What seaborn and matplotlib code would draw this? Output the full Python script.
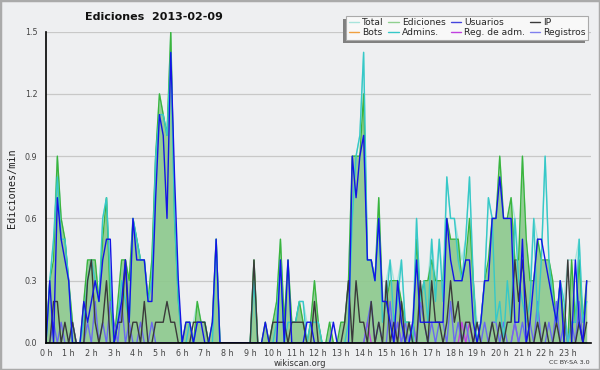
#!/usr/bin/env python3

import numpy as np
import pandas as pd
import matplotlib
matplotlib.use('Agg')
import matplotlib.pyplot as plt
import seaborn as sns
from matplotlib.lines import Line2D
from matplotlib.patches import Rectangle
from matplotlib.ticker import MultipleLocator

# Eje temporal: intervalos de 10 minutos durante el día
minutos = np.arange(0, 1440, 10)
etiquetas_horas = [f'{h} h' for h in range(24)]

# Valores en ediciones/min (12 valores = 2 horas por línea)
total = [
    0.0, 0.3, 0.5, 0.9, 0.6, 0.5, 0.3, 0.1, 0.0, 0.0, 0.2, 0.4,
    0.4, 0.4, 0.2, 0.6, 0.7, 0.3, 0.0, 0.2, 0.4, 0.4, 0.3, 0.6,
    0.5, 0.4, 0.4, 0.2, 0.4, 0.9, 1.2, 1.1, 1.0, 1.5, 0.6, 0.2,
    0.0, 0.1, 0.1, 0.1, 0.2, 0.1, 0.1, 0.0, 0.1, 0.5, 0.0, 0.0,
    0.0, 0.0, 0.0, 0.0, 0.0, 0.0, 0.0, 0.4, 0.0, 0.0, 0.1, 0.0,
    0.1, 0.2, 0.5, 0.1, 0.4, 0.1, 0.1, 0.2, 0.2, 0.1, 0.1, 0.3,
    0.1, 0.0, 0.0, 0.1, 0.1, 0.0, 0.1, 0.1, 0.3, 0.9, 0.9, 1.0,
    1.4, 0.4, 0.4, 0.3, 0.7, 0.2, 0.3, 0.4, 0.3, 0.3, 0.4, 0.1,
    0.1, 0.1, 0.6, 0.2, 0.3, 0.3, 0.5, 0.3, 0.5, 0.3, 0.8, 0.6,
    0.6, 0.5, 0.4, 0.5, 0.8, 0.3, 0.1, 0.1, 0.3, 0.7, 0.6, 0.6,
    0.9, 0.6, 0.6, 0.7, 0.6, 0.4, 0.9, 0.5, 0.3, 0.6, 0.5, 0.4,
    0.9, 0.4, 0.3, 0.1, 0.3, 0.2, 0.4, 0.4, 0.4, 0.5, 0.1, 0.3,
]
ediciones = [
    0.0, 0.3, 0.4, 0.9, 0.6, 0.5, 0.3, 0.1, 0.0, 0.0, 0.2, 0.4,
    0.4, 0.4, 0.2, 0.5, 0.7, 0.2, 0.0, 0.2, 0.4, 0.4, 0.3, 0.6,
    0.5, 0.4, 0.4, 0.2, 0.4, 0.9, 1.2, 1.1, 1.0, 1.5, 0.6, 0.2,
    0.0, 0.1, 0.1, 0.0, 0.2, 0.1, 0.1, 0.0, 0.1, 0.5, 0.0, 0.0,
    0.0, 0.0, 0.0, 0.0, 0.0, 0.0, 0.0, 0.4, 0.0, 0.0, 0.1, 0.0,
    0.1, 0.2, 0.5, 0.1, 0.4, 0.1, 0.1, 0.2, 0.1, 0.0, 0.1, 0.3,
    0.1, 0.0, 0.0, 0.1, 0.0, 0.0, 0.1, 0.1, 0.3, 0.9, 0.9, 0.9,
    1.2, 0.4, 0.4, 0.3, 0.7, 0.2, 0.2, 0.3, 0.3, 0.3, 0.2, 0.1,
    0.1, 0.0, 0.5, 0.2, 0.3, 0.3, 0.4, 0.3, 0.3, 0.3, 0.6, 0.5,
    0.5, 0.5, 0.3, 0.4, 0.6, 0.3, 0.0, 0.1, 0.3, 0.4, 0.6, 0.6,
    0.9, 0.6, 0.6, 0.7, 0.4, 0.4, 0.9, 0.5, 0.3, 0.3, 0.5, 0.4,
    0.4, 0.4, 0.3, 0.1, 0.3, 0.1, 0.0, 0.4, 0.1, 0.4, 0.1, 0.3,
]
usuarios = [
    0.0, 0.3, 0.0, 0.7, 0.5, 0.4, 0.3, 0.0, 0.0, 0.0, 0.2, 0.1,
    0.2, 0.3, 0.2, 0.4, 0.5, 0.5, 0.0, 0.1, 0.2, 0.4, 0.1, 0.6,
    0.4, 0.4, 0.4, 0.2, 0.2, 0.7, 1.1, 1.0, 0.6, 1.4, 0.8, 0.3,
    0.0, 0.1, 0.1, 0.0, 0.1, 0.1, 0.0, 0.0, 0.1, 0.5, 0.0, 0.0,
    0.0, 0.0, 0.0, 0.0, 0.0, 0.0, 0.0, 0.0, 0.0, 0.0, 0.1, 0.0,
    0.0, 0.0, 0.4, 0.0, 0.4, 0.0, 0.0, 0.0, 0.0, 0.1, 0.1, 0.0,
    0.0, 0.0, 0.0, 0.0, 0.1, 0.0, 0.0, 0.0, 0.0, 0.9, 0.7, 0.9,
    1.0, 0.4, 0.4, 0.3, 0.6, 0.2, 0.2, 0.1, 0.0, 0.3, 0.1, 0.0,
    0.0, 0.1, 0.4, 0.1, 0.1, 0.1, 0.1, 0.1, 0.1, 0.1, 0.6, 0.4,
    0.3, 0.3, 0.3, 0.4, 0.4, 0.1, 0.0, 0.1, 0.3, 0.3, 0.6, 0.6,
    0.8, 0.6, 0.6, 0.6, 0.1, 0.1, 0.5, 0.0, 0.1, 0.3, 0.5, 0.5,
    0.4, 0.3, 0.2, 0.1, 0.3, 0.0, 0.0, 0.0, 0.4, 0.1, 0.0, 0.3,
]
ip = [
    0.0, 0.0, 0.2, 0.2, 0.0, 0.1, 0.0, 0.1, 0.0, 0.0, 0.0, 0.3,
    0.4, 0.1, 0.0, 0.1, 0.3, 0.0, 0.0, 0.1, 0.1, 0.4, 0.0, 0.1,
    0.1, 0.0, 0.2, 0.0, 0.0, 0.1, 0.1, 0.1, 0.2, 0.1, 0.1, 0.0,
    0.0, 0.0, 0.0, 0.1, 0.1, 0.1, 0.1, 0.0, 0.0, 0.0, 0.0, 0.0,
    0.0, 0.0, 0.0, 0.0, 0.0, 0.0, 0.0, 0.4, 0.0, 0.0, 0.0, 0.0,
    0.1, 0.1, 0.1, 0.1, 0.0, 0.1, 0.1, 0.1, 0.1, 0.0, 0.0, 0.2,
    0.0, 0.0, 0.0, 0.0, 0.0, 0.0, 0.0, 0.1, 0.3, 0.0, 0.3, 0.1,
    0.1, 0.0, 0.2, 0.0, 0.1, 0.0, 0.3, 0.0, 0.1, 0.0, 0.2, 0.0,
    0.1, 0.0, 0.0, 0.3, 0.1, 0.0, 0.3, 0.1, 0.1, 0.0, 0.1, 0.3,
    0.1, 0.2, 0.0, 0.1, 0.1, 0.0, 0.1, 0.0, 0.0, 0.0, 0.1, 0.0,
    0.1, 0.0, 0.1, 0.1, 0.4, 0.2, 0.4, 0.2, 0.0, 0.0, 0.1, 0.0,
    0.1, 0.0, 0.0, 0.1, 0.0, 0.0, 0.4, 0.0, 0.0, 0.1, 0.0, 0.1,
]
bots = [0.0] * 144
admins = [
    0.0, 0.3, 0.5, 0.8, 0.5, 0.5, 0.3, 0.0, 0.0, 0.0, 0.1, 0.3,
    0.4, 0.3, 0.2, 0.6, 0.7, 0.3, 0.0, 0.1, 0.3, 0.2, 0.1, 0.6,
    0.5, 0.4, 0.4, 0.2, 0.3, 0.9, 1.1, 1.1, 1.0, 1.4, 0.6, 0.2,
    0.0, 0.0, 0.1, 0.0, 0.1, 0.1, 0.1, 0.0, 0.0, 0.5, 0.0, 0.0,
    0.0, 0.0, 0.0, 0.0, 0.0, 0.0, 0.0, 0.3, 0.0, 0.0, 0.0, 0.0,
    0.0, 0.1, 0.4, 0.0, 0.1, 0.1, 0.1, 0.2, 0.2, 0.0, 0.1, 0.1,
    0.1, 0.0, 0.0, 0.0, 0.0, 0.0, 0.0, 0.0, 0.1, 0.6, 0.9, 1.0,
    1.4, 0.4, 0.4, 0.3, 0.6, 0.1, 0.2, 0.4, 0.1, 0.2, 0.4, 0.1,
    0.1, 0.0, 0.6, 0.2, 0.3, 0.1, 0.5, 0.2, 0.5, 0.2, 0.8, 0.6,
    0.6, 0.4, 0.3, 0.5, 0.8, 0.3, 0.0, 0.1, 0.3, 0.7, 0.6, 0.1,
    0.2, 0.0, 0.3, 0.1, 0.6, 0.3, 0.2, 0.1, 0.2, 0.6, 0.1, 0.4,
    0.9, 0.4, 0.2, 0.1, 0.3, 0.2, 0.0, 0.1, 0.1, 0.5, 0.1, 0.2,
]
reg_adm = [
    0.0, 0.0, 0.0, 0.0, 0.0, 0.0, 0.0, 0.0, 0.0, 0.0, 0.0, 0.0,
    0.0, 0.0, 0.0, 0.0, 0.0, 0.0, 0.0, 0.0, 0.0, 0.0, 0.0, 0.0,
    0.0, 0.0, 0.0, 0.0, 0.0, 0.0, 0.0, 0.0, 0.0, 0.0, 0.0, 0.0,
    0.0, 0.0, 0.0, 0.0, 0.0, 0.0, 0.0, 0.0, 0.0, 0.0, 0.0, 0.0,
    0.0, 0.0, 0.0, 0.0, 0.0, 0.0, 0.0, 0.0, 0.0, 0.0, 0.0, 0.0,
    0.0, 0.0, 0.0, 0.0, 0.0, 0.0, 0.0, 0.0, 0.0, 0.0, 0.0, 0.0,
    0.0, 0.0, 0.0, 0.0, 0.0, 0.0, 0.0, 0.0, 0.0, 0.0, 0.0, 0.0,
    0.0, 0.1, 0.0, 0.0, 0.0, 0.0, 0.0, 0.0, 0.0, 0.1, 0.0, 0.0,
    0.0, 0.1, 0.0, 0.0, 0.0, 0.0, 0.0, 0.0, 0.0, 0.0, 0.0, 0.0,
    0.0, 0.0, 0.1, 0.0, 0.1, 0.0, 0.0, 0.0, 0.0, 0.0, 0.0, 0.0,
    0.0, 0.0, 0.0, 0.0, 0.1, 0.0, 0.0, 0.0, 0.0, 0.0, 0.0, 0.0,
    0.0, 0.0, 0.0, 0.0, 0.0, 0.0, 0.0, 0.0, 0.0, 0.0, 0.0, 0.0,
]
registros = [
    0.0, 0.0, 0.1, 0.0, 0.1, 0.0, 0.0, 0.1, 0.0, 0.0, 0.0, 0.1,
    0.0, 0.2, 0.0, 0.1, 0.0, 0.2, 0.1, 0.0, 0.2, 0.0, 0.1, 0.0,
    0.0, 0.1, 0.0, 0.0, 0.1, 0.0, 0.0, 0.0, 0.0, 0.0, 0.0, 0.0,
    0.0, 0.0, 0.0, 0.0, 0.0, 0.0, 0.0, 0.0, 0.0, 0.0, 0.0, 0.0,
    0.0, 0.0, 0.0, 0.0, 0.0, 0.0, 0.0, 0.0, 0.0, 0.0, 0.0, 0.0,
    0.0, 0.0, 0.0, 0.0, 0.0, 0.0, 0.0, 0.0, 0.0, 0.0, 0.0, 0.0,
    0.0, 0.0, 0.0, 0.0, 0.0, 0.0, 0.0, 0.0, 0.0, 0.0, 0.0, 0.0,
    0.0, 0.1, 0.2, 0.0, 0.1, 0.0, 0.0, 0.2, 0.0, 0.1, 0.0, 0.1,
    0.0, 0.1, 0.0, 0.2, 0.1, 0.0, 0.1, 0.0, 0.1, 0.1, 0.0, 0.2,
    0.0, 0.1, 0.0, 0.1, 0.0, 0.0, 0.1, 0.0, 0.1, 0.0, 0.1, 0.1,
    0.0, 0.1, 0.0, 0.0, 0.1, 0.0, 0.1, 0.0, 0.1, 0.0, 0.2, 0.0,
    0.0, 0.1, 0.0, 0.2, 0.0, 0.1, 0.0, 0.1, 0.0, 0.2, 0.0, 0.0,
]

series = {
    'Total': total, 'Ediciones': ediciones, 'Usuarios': usuarios, 'IP': ip,
    'Bots': bots, 'Admins.': admins, 'Reg. de adm.': reg_adm, 'Registros': registros,
}
colores = {
    'Total': '#a8e4dc', 'Ediciones': '#3cb43c', 'Usuarios': '#1414e6', 'IP': '#3a3a3a',
    'Bots': '#f0a040', 'Admins.': '#36c8c8', 'Reg. de adm.': '#c040e0', 'Registros': '#6a6af0',
}
colores_leyenda = dict(colores, Ediciones='#8fd08f', Usuarios='#4444dd', Registros='#8080ee')
# orden de dibujo (el último queda encima)
orden = ['Total', 'Bots', 'Ediciones', 'Reg. de adm.', 'Registros', 'Admins.', 'IP', 'Usuarios']

df = pd.DataFrame(series)
df['minuto'] = minutos
largo = df.melt(id_vars='minuto', var_name='serie', value_name='valor')

sns.set_theme(style='white')
plt.rcParams['font.family'] = ['DejaVu Sans']

fondo = '#eeeff1'
fig = plt.figure(figsize=(6, 3.7), dpi=100, facecolor=fondo)
ax = fig.add_axes([46 / 600, 27 / 370, 544.5 / 600, 311.4 / 370])
ax.set_facecolor(fondo)

# área de ediciones
ax.fill_between(df['minuto'], df['Ediciones'], color='#8cc98c', alpha=0.9, lw=0, zorder=1)

sns.lineplot(data=largo, x='minuto', y='valor', hue='serie', hue_order=orden,
             palette=colores, estimator=None, linewidth=1.0, legend=False, ax=ax)

ax.set_xlim(0, 1440)
ax.set_ylim(0, 1.5)
ax.set_xticks(np.arange(0, 1440, 60))
ax.set_xticklabels(etiquetas_horas)
ax.xaxis.set_minor_locator(MultipleLocator(10))
ax.set_yticks(np.arange(0, 1.51, 0.3))
ax.set_yticklabels([f'{v:.1f}' for v in np.arange(0, 1.51, 0.3)])
ax.yaxis.set_minor_locator(MultipleLocator(0.1))
ax.tick_params(axis='both', which='both', direction='out', color='black',
               labelsize=5.8, labelcolor='#444444', pad=1.2)
ax.tick_params(axis='x', which='both', length=3, width=0.8)
ax.tick_params(axis='y', which='major', length=5, width=0.8)
ax.tick_params(axis='y', which='minor', length=3, width=0.8)
ax.yaxis.grid(True, color='#c8c8c8', lw=0.9)
ax.set_axisbelow(True)
for lado in ['top', 'right']:
    ax.spines[lado].set_visible(False)
for lado in ['left', 'bottom']:
    ax.spines[lado].set_color('black')
    ax.spines[lado].set_linewidth(1.2)
    ax.spines[lado].set_zorder(5)
ax.set_xlabel('')
ax.set_ylabel('')

fig.text(154 / 600, 1 - 17 / 370, 'Ediciones  2013-02-09', ha='center', va='center',
         fontsize=8, fontweight='bold', color='#111111')
fig.text(12 / 600, 1 - 188 / 370, 'Ediciones/min', rotation=90, ha='center', va='center',
         fontsize=7.3, family='DejaVu Sans Mono', color='#222222')
fig.text(300 / 600, 1 - 363 / 370, 'wikiscan.org', ha='center', va='center',
         fontsize=6.0, color='#333333')
fig.text(590 / 600, 1 - 363 / 370, 'CC BY-SA 3.0', ha='right', va='center',
         fontsize=4.6, color='#333333')

# leyenda (se rellena por columnas)
orden_leyenda = ['Total', 'Bots', 'Ediciones', 'Admins.', 'Usuarios', 'Reg. de adm.', 'IP', 'Registros']
manijas = [Line2D([], [], color=colores_leyenda[n], lw=1.0) for n in orden_leyenda]
leg = fig.legend(manijas, orden_leyenda, ncol=4, loc='upper right',
                 bbox_to_anchor=(593 / 600, 1 - 11 / 370), fontsize=6.6,
                 handlelength=1.1, handletextpad=0.35, columnspacing=0.55,
                 borderpad=0.3, labelspacing=0.05, frameon=True, fancybox=False,
                 framealpha=1, facecolor='#f8f8f8', edgecolor='#aaaaaa')
leg.get_frame().set_linewidth(0.8)
leg.set_zorder(10)

fig.canvas.draw()
bb = leg.get_window_extent()
fig.patches.append(Rectangle((bb.x0 - 3, bb.y0 - 3), bb.width, bb.height, transform=None,
                             facecolor='#808080', edgecolor='none', zorder=9))
fig.patches.append(Rectangle((0, 0), 1, 1, transform=fig.transFigure, fill=False,
                             edgecolor='#aaaaaa', lw=2.5, zorder=20))

fig.savefig('out.png', dpi=100, facecolor=fondo)
